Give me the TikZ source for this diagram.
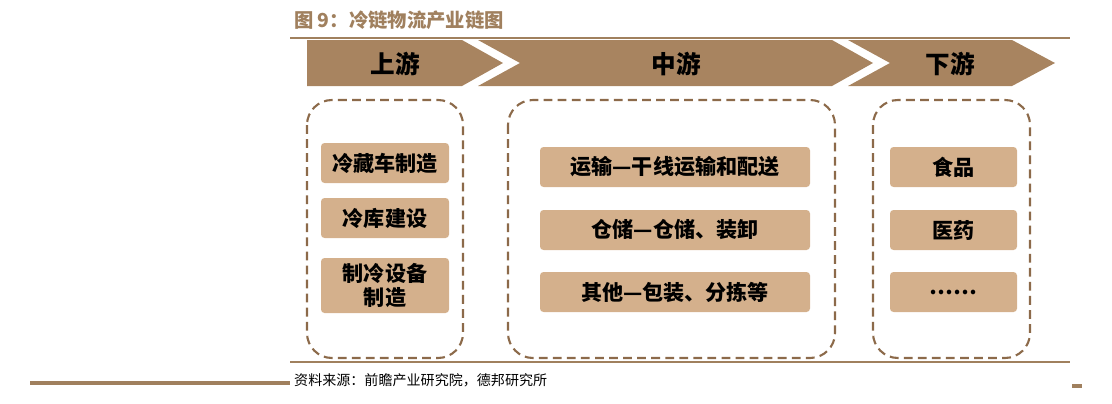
\documentclass[tikz,border=0pt]{standalone}
\usepackage{fontspec}
\newfontfamily\cjk{Noto Sans CJK SC}
\begin{document}
\begin{tikzpicture}[x=0.02cm,y=-0.02cm,
  arr/.style={fill=arrowc,draw=none},
  cont/.style={draw=brownc,dashed,line width=1.2pt,rounded corners=0.5cm,dash pattern=on 5pt off 3pt},
  item/.style={fill=boxc,rounded corners=2pt,draw=none},
  lab/.style={font=\cjk\bfseries\fontsize{12}{14}\selectfont,text=black,align=center}]
\definecolor{arrowc}{HTML}{A88460}
\definecolor{brownc}{HTML}{8C6A4A}
\definecolor{boxc}{HTML}{D4B08C}
\definecolor{titlec}{HTML}{A0805E}
\useasboundingbox (0,0) rectangle (1112,403);
\node[anchor=west,text=titlec,font=\cjk\bfseries\fontsize{11}{13}\selectfont] (title) at (288,20) {图 9：冷链物流产业链图};
\draw[titlec,line width=1pt] (290,38) -- (1070,38);
\fill[arr] (307,40) -- (462,40) -- (503,63) -- (462,86) -- (307,86) -- cycle;
\fill[arr] (478,40) -- (832,40) -- (873,63) -- (832,86) -- (478,86) -- (520,63) -- cycle;
\fill[arr] (848,40) -- (1012,40) -- (1055,63) -- (1012,86) -- (848,86) -- (890,63) -- cycle;
\node[lab,font=\cjk\bfseries\fontsize{14}{16}\selectfont] (u) at (395,64) {上游};
\node[lab,font=\cjk\bfseries\fontsize{14}{16}\selectfont] (m) at (676,64) {中游};
\node[lab,font=\cjk\bfseries\fontsize{14}{16}\selectfont] (d) at (950,64) {下游};
\draw[cont] (307,100) rectangle (463,358);
\draw[cont] (508,100) rectangle (835,358);
\draw[cont] (873,100) rectangle (1030,358);
\newcommand\itm[6]{\fill[item] (#1,#2) rectangle (#3,#4); \node[lab] (#5) at ({(#1+#3)/2},{(#2+#4)/2}) {#6};}
\itm{321}{143}{449}{183}{a1}{冷藏车制造}
\itm{321}{198}{449}{238}{a2}{冷库建设}
\itm{321}{258}{449}{313}{a3}{制冷设备\\制造}
\itm{540}{147}{810}{187}{b1}{运输—干线运输和配送}
\itm{540}{210}{810}{250}{b2}{仓储—仓储、装卸}
\itm{540}{272}{810}{312}{b3}{其他—包装、分拣等}
\itm{890}{147}{1017}{187}{c1}{食品}
\itm{890}{210}{1017}{250}{c2}{医药}
\itm{890}{272}{1017}{312}{c3}{……}
\draw[titlec,line width=1pt] (290,362) -- (1070,362);
\node[anchor=west,font=\cjk\fontsize{8}{10}\selectfont] (src) at (288,380) {资料来源：前瞻产业研究院，德邦研究所};
\draw[titlec,line width=2pt] (30,383) -- (290,383);
\draw[titlec,line width=2pt] (1072,386) -- (1082,386);
\end{tikzpicture}
\end{document}
